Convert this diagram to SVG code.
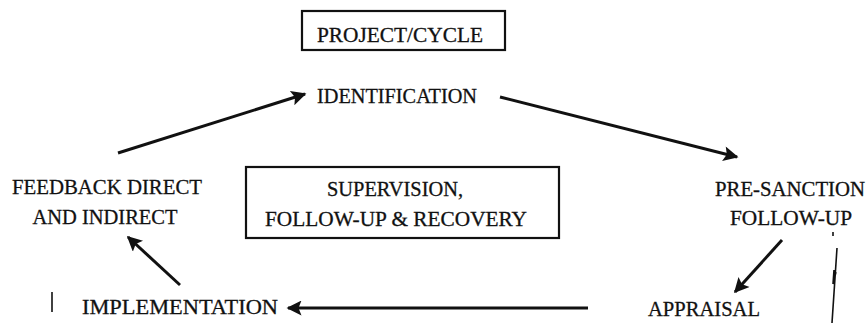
<svg xmlns="http://www.w3.org/2000/svg" width="866" height="323" viewBox="0 0 866 323">
  <style>
    .lbl { font-family: "Liberation Serif", "DejaVu Serif", serif; font-size: 21px; fill: #111; stroke: #111; stroke-width: 0.3; text-anchor: middle; }
    .box { fill: none; stroke: #111; stroke-width: 2.2; }
    .conn { fill: none; stroke: #111; stroke-width: 3; }
    .thin { fill: none; stroke: #111; stroke-width: 1.6; }
  </style>
  <defs>
    <marker id="head" viewBox="0 0 10 10" refX="9" refY="5" markerWidth="7" markerHeight="5" markerUnits="strokeWidth" orient="auto">
      <path d="M0,0 L10,5 L0,10 L2,5 Z" fill="#111"/>
    </marker>
  </defs>

  <rect width="866" height="323" fill="#fff"/>

  <g id="title">
    <rect class="box" x="302" y="11" width="203" height="39"/>
    <text class="lbl" x="400" y="42" textLength="166" lengthAdjust="spacingAndGlyphs">PROJECT/CYCLE</text>
  </g>

  <g id="identification">
    <text class="lbl" x="397" y="103" textLength="160" lengthAdjust="spacingAndGlyphs">IDENTIFICATION</text>
  </g>

  <g id="feedback">
    <text class="lbl" x="107" y="194" textLength="190" lengthAdjust="spacingAndGlyphs">FEEDBACK DIRECT</text>
    <text class="lbl" x="105" y="224" textLength="145" lengthAdjust="spacingAndGlyphs">AND INDIRECT</text>
  </g>

  <g id="supervision">
    <rect class="box" x="246" y="167" width="313" height="71"/>
    <text class="lbl" x="395" y="196" textLength="136" lengthAdjust="spacingAndGlyphs">SUPERVISION,</text>
    <text class="lbl" x="396" y="226" textLength="262" lengthAdjust="spacingAndGlyphs">FOLLOW-UP &amp; RECOVERY</text>
  </g>

  <g id="pre-sanction">
    <text class="lbl" x="790" y="196" textLength="150" lengthAdjust="spacingAndGlyphs">PRE-SANCTION</text>
    <text class="lbl" x="791" y="225" textLength="122" lengthAdjust="spacingAndGlyphs">FOLLOW-UP</text>
  </g>

  <g id="implementation">
    <line class="thin" x1="52" y1="292" x2="52" y2="312"/>
    <text class="lbl" x="180" y="314" textLength="196" lengthAdjust="spacingAndGlyphs">IMPLEMENTATION</text>
  </g>

  <g id="appraisal">
    <text class="lbl" x="704" y="316" textLength="112" lengthAdjust="spacingAndGlyphs">APPRAISAL</text>
  </g>

  <g id="connectors">
    <line class="conn" x1="118" y1="153" x2="305" y2="94" marker-end="url(#head)"/>
    <line class="conn" x1="500" y1="97" x2="737" y2="157" marker-end="url(#head)"/>
    <line class="conn" x1="782" y1="240" x2="735" y2="292" marker-end="url(#head)"/>
    <line class="conn" x1="588" y1="308" x2="288" y2="308" marker-end="url(#head)"/>
    <line class="conn" x1="180" y1="285" x2="128" y2="237" marker-end="url(#head)"/>
    <line class="thin" x1="833" y1="232" x2="833" y2="236"/>
    <path class="thin" d="M837,248 L832,323 M833,284 L834,270 M833,284 L836,272"/>
  </g>
</svg>
